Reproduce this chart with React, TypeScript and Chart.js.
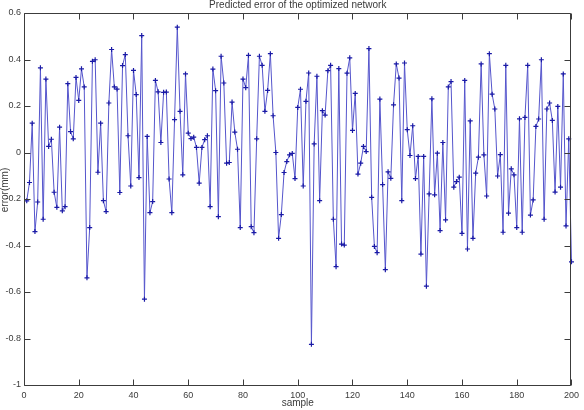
import React, { useEffect, useRef } from "react";
import { Chart, registerables } from "chart.js";

Chart.register(...registerables);

const samples: number[] = Array.from({ length: 200 }, (_, i) => i + 1);

const errors: number[] = [
  -0.208, -0.129, 0.126, -0.34, -0.213, 0.364, -0.287, 0.316, 0.026, 0.057,
  -0.171, -0.236, 0.109, -0.251, -0.233, 0.296, 0.09, 0.059, 0.323, 0.224,
  0.36, 0.282, -0.539, -0.323, 0.392, 0.399, -0.085, 0.126, -0.207, -0.254,
  0.213, 0.443, 0.282, 0.273, -0.172, 0.374, 0.421, 0.072, -0.144, 0.353,
  0.249, -0.108, 0.503, -0.631, 0.069, -0.259, -0.211, 0.31, 0.261, 0.043,
  0.259, 0.26, -0.114, -0.259, 0.141, 0.539, 0.177, -0.096, 0.338, 0.083,
  0.06, 0.066, 0.022, -0.132, 0.022, 0.055, 0.072, -0.233, 0.359, 0.266,
  -0.276, 0.414, 0.299, -0.046, -0.043, 0.217, 0.088, 0.014, -0.323, 0.316,
  0.279, 0.418, -0.319, -0.345, 0.059, 0.414, 0.375, 0.177, 0.267, 0.425,
  0.158, 0.0, -0.369, -0.267, -0.086, -0.039, -0.01, -0.004, -0.112, 0.194,
  0.272, -0.144, 0.22, 0.342, -0.825, 0.037, 0.328, -0.207, 0.18, 0.161,
  0.352, 0.375, -0.287, -0.491, 0.361, -0.394, -0.398, 0.341, 0.407, 0.095,
  0.254, -0.093, -0.046, 0.026, 0.004, 0.447, -0.193, -0.404, -0.431, 0.23,
  -0.138, -0.504, -0.083, -0.111, 0.205, 0.381, 0.32, -0.207, 0.385, 0.098,
  -0.013, 0.115, -0.112, -0.017, -0.437, -0.017, -0.575, -0.178, 0.231, -0.182,
  -0.003, -0.336, 0.043, -0.29, 0.282, 0.305, -0.149, -0.125, -0.106, -0.348,
  0.31, -0.415, 0.136, -0.369, -0.089, -0.02, 0.381, -0.01, -0.187, 0.425,
  0.251, 0.187, -0.101, -0.009, -0.343, 0.375, -0.261, -0.07, -0.096, -0.323,
  0.145, -0.343, 0.151, 0.375, -0.269, -0.204, 0.112, 0.144, 0.399, -0.287,
  0.187, 0.213, 0.138, -0.17, 0.198, -0.149, 0.338, -0.316, 0.059, -0.47,
];

const xTicks: number[] = [0, 20, 40, 60, 80, 100, 120, 140, 160, 180, 200];
const yTicks: number[] = [-1, -0.8, -0.6, -0.4, -0.2, 0, 0.2, 0.4, 0.6];
const yTickLabels: string[] = ["-1", "-0.8", "-0.6", "-0.4", "-0.2", "0", "0.2", "0.4", "0.6"];

const titleText = "Predicted error of the optimized network";
const xTitle = "sample";
const yTitle = "error(mm)";

const FONT = "'Liberation Sans Narrow', 'Liberation Sans', Arial, sans-serif";
const TEXT_COLOR = "#3a3a3a";

const decor = {
  id: "decor",
  afterDraw(chart: any) {
    const { ctx, chartArea: a, scales } = chart;
    const x = scales.x;
    const y = scales.y;
    const L = Math.round(a.left) + 0.5;
    const R = Math.round(a.right) - 0.5;
    const T = Math.round(a.top) + 0.5;
    const B = Math.round(a.bottom) + 0.5;
    ctx.save();
    ctx.strokeStyle = "#3c3c3c";
    ctx.lineWidth = 1;
    ctx.beginPath();
    ctx.rect(L, T, R - L, B - T);
    ctx.stroke();
    const tl = 6;
    ctx.beginPath();
    for (const v of xTicks) {
      const px = Math.round(x.getPixelForValue(v)) + 0.5;
      ctx.moveTo(px, B);
      ctx.lineTo(px, B - tl);
      ctx.moveTo(px, T);
      ctx.lineTo(px, T + tl);
    }
    for (const v of yTicks) {
      const py = Math.round(y.getPixelForValue(v)) + 0.5;
      ctx.moveTo(L, py);
      ctx.lineTo(L + tl, py);
      ctx.moveTo(R, py);
      ctx.lineTo(R - tl, py);
    }
    ctx.stroke();

    ctx.fillStyle = TEXT_COLOR;
    ctx.textAlign = "center";
    ctx.textBaseline = "middle";
    ctx.font = `10px ${FONT}`;
    const cx = (a.left + a.right) / 2;
    ctx.fillText(titleText, cx, 5);
    ctx.fillText(xTitle, cx, 403);
    ctx.translate(5, 190);
    ctx.rotate(-Math.PI / 2);
    ctx.fillText(yTitle, 0, 0);
    ctx.restore();
  },
};

export default function App() {
  const ref = useRef<HTMLCanvasElement | null>(null);

  useEffect(() => {
    document.body.style.margin = "0";
    if (!ref.current) return;
    const chart = new Chart(ref.current, {
      type: "line",
      data: {
        labels: samples,
        datasets: [
          {
            data: samples.map((s, i) => ({ x: s, y: errors[i] })),
            borderColor: "#5555cc",
            borderWidth: 1,
            tension: 0,
            pointStyle: "cross",
            pointRadius: 2.5,
            pointBorderColor: "#1a1aa6",
            pointBorderWidth: 1.2,
            pointBackgroundColor: "rgba(0,0,0,0)",
            clip: 6,
          } as any,
        ],
      },
      options: {
        animation: false,
        responsive: false,
        devicePixelRatio: 1,
        layout: { padding: { left: 0, right: 10, top: 13, bottom: 0 } },
        plugins: {
          legend: { display: false },
          title: { display: false },
          tooltip: { enabled: false },
        },
        scales: {
          x: {
            type: "linear",
            min: 0,
            max: 200,
            afterBuildTicks: (s: any) => {
              s.ticks = xTicks.map((v) => ({ value: v }));
            },
            afterFit: (s: any) => {
              s.height = 25;
            },
            grid: { display: false, drawTicks: false },
            border: { display: false },
            ticks: {
              padding: 5,
              maxRotation: 0,
              autoSkip: false,
              color: TEXT_COLOR,
              font: { size: 9, family: FONT },
            },
          },
          y: {
            type: "linear",
            min: -1,
            max: 0.6,
            afterBuildTicks: (s: any) => {
              s.ticks = yTicks.map((v) => ({ value: v }));
            },
            afterFit: (s: any) => {
              s.width = 24;
            },
            grid: { display: false, drawTicks: false },
            border: { display: false },
            ticks: {
              padding: 3,
              autoSkip: false,
              color: TEXT_COLOR,
              font: { size: 9, family: FONT },
              callback: (v: any) => {
                const idx = yTicks.findIndex((t) => Math.abs(t - Number(v)) < 1e-6);
                return idx >= 0 ? yTickLabels[idx] : "";
              },
            },
          },
        },
      },
      plugins: [decor],
    });
    return () => chart.destroy();
  }, []);

  return (
    <div style={{ position: "fixed", left: 0, top: 0, width: 584, height: 410, background: "#fff" }}>
      <canvas ref={ref} width={584} height={410} style={{ display: "block" }} />
    </div>
  );
}
